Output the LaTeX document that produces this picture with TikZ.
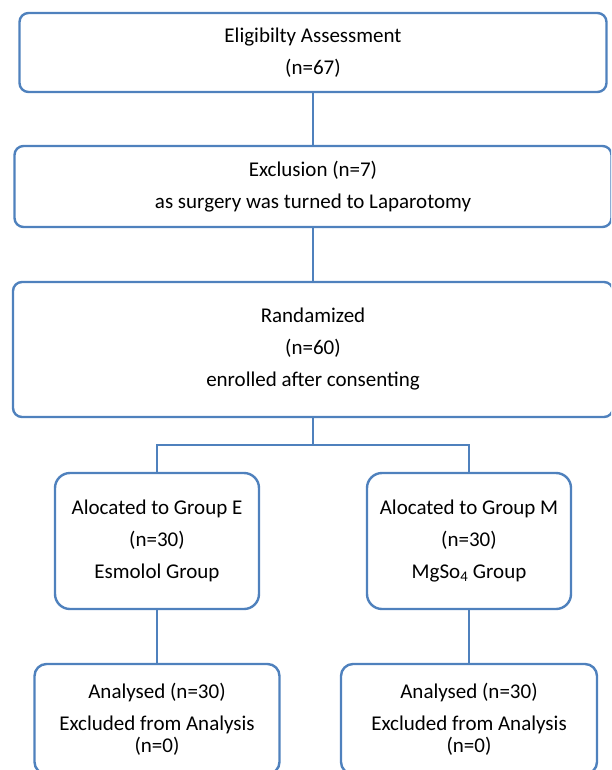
\documentclass[tikz,border=0pt]{standalone}
\usepackage{fontspec}
\setmainfont{Carlito}
\definecolor{boxblue}{HTML}{4F81BD}

\begin{document}
\begin{tikzpicture}[x=1pt,y=-1pt,
    flowbox/.style={draw=boxblue, line width=2.4pt, rounded corners=9pt, align=center,
                    inner sep=0pt, font=\fontsize{21}{32}\selectfont},
    link/.style={draw=boxblue, line width=1.7pt}]
                \useasboundingbox (0,0) rectangle (611,770);
                \clip (0,0) rectangle (611,770);

                \node[flowbox, minimum width=587pt, minimum height=79pt] (elig) at (313,52.5) {Eligibilty Assessment\\(n=67)};
                \node[flowbox, minimum width=597pt, minimum height=81pt] (excl) at (313,186.5) {Exclusion (n=7)\\as surgery was turned to Laparotomy};
                \node[flowbox, minimum width=600pt, minimum height=135pt] (rand) at (313,349.5) {Randamized\\(n=60)\\enrolled after consenting};
                \node[flowbox, rounded corners=15pt, minimum width=204pt, minimum height=136pt] (grpE) at (157,541) {Alocated to Group E\\(n=30)\\Esmolol Group};
                \node[flowbox, rounded corners=15pt, minimum width=204pt, minimum height=136pt] (grpM) at (469,541) {Alocated to Group M\\(n=30)\\MgSo\textsubscript{4} Group};
                \node[flowbox, rounded corners=12pt, minimum width=245pt, minimum height=110pt] (anaE) at (157,719) {Analysed (n=30)\\Excluded from Analysis\\[-10pt](n=0)};
                \node[flowbox, rounded corners=12pt, minimum width=256pt, minimum height=110pt] (anaM) at (469,719) {Analysed (n=30)\\Excluded from Analysis\\[-10pt](n=0)};
                \coordinate (split) at (313,445);

                \draw[link] (elig) -- (excl);
                \draw[link] (excl) -- (rand);
                \draw[link] (rand) -- (split);
                \draw[link] (split) -| (grpE);
                \draw[link] (split) -| (grpM);
                \draw[link] (grpE) -- (anaE);
                \draw[link] (grpM) -- (anaM);
            \end{tikzpicture}
\end{document}
